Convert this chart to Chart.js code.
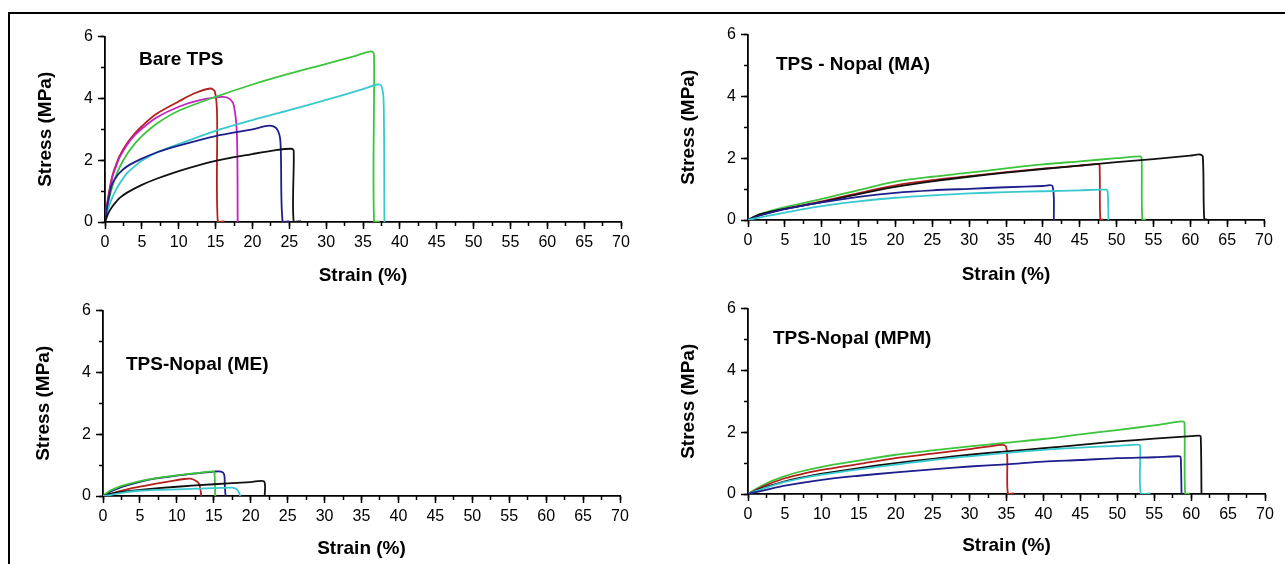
<!DOCTYPE html>
<html>
<head>
<meta charset="utf-8">
<title>Stress-strain curves</title>
<script src="https://cdn.jsdelivr.net/npm/chart.js@4.4.1/dist/chart.umd.min.js"></script>
<style>
  body { margin: 0; background: #fff; width: 1285px; height: 564px; overflow: hidden; position: relative;
         font-family: 'Liberation Sans', Arial, sans-serif; }
  .frame { position: absolute; left: 8px; top: 12px; width: 1300px; height: 600px;
           border-top: 2px solid #000; border-left: 2.5px solid #000; }
  canvas { position: absolute; }
  .tag { position: absolute; font-weight: bold; font-size: 19px; line-height: 19px; color: #000; white-space: nowrap; }
</style>
</head>
<body>
<div class="frame"></div>

<canvas id="bareChart" width="607" height="265" style="left:34px; top:22px;"></canvas>
<canvas id="maChart" width="607" height="266" style="left:677px; top:20px;"></canvas>
<canvas id="meChart" width="608" height="264" style="left:32px; top:296px;"></canvas>
<canvas id="mpmChart" width="608" height="263" style="left:677px; top:294px;"></canvas>

<div class="tag" style="left:139px; top:49px;">Bare TPS</div>
<div class="tag" style="left:776px; top:54px;">TPS - Nopal (MA)</div>
<div class="tag" style="left:126px; top:354px;">TPS-Nopal (ME)</div>
<div class="tag" style="left:773px; top:328px;">TPS-Nopal (MPM)</div>

<script>
// Specimen colours used in every panel
const RED = '#b3201e';
const MAGENTA = '#c322c3';
const GREEN = '#3cc43c';
const CYAN = '#38c9cf';
const BLUE = '#1e1e8c';
const BLACK = '#111111';

// Axis labels
const strainLabel = 'Strain (%)';
const stressLabel = 'Stress (MPa)';

// Bare TPS  [strain %, stress MPa]
const bareRed = [[0,0],[0.3,0.6],[0.6,1.05],[1,1.5],[1.5,1.85],[2,2.15],[3,2.55],[4,2.85],[5,3.1],[7,3.5],[10,3.9],[12,4.15],[14.3,4.32],[14.9,4.22],[15.2,3.5],[15.3,0],[16.2,0.02]];
const bareMagenta = [[0,0],[0.3,0.55],[0.6,0.95],[1,1.45],[1.5,1.8],[2,2.1],[3,2.5],[4,2.8],[5,3.02],[7,3.38],[10,3.73],[13,3.95],[16,4.05],[17,3.97],[17.5,3.75],[17.9,2.8],[18,0]];
const bareGreen = [[0,0],[0.3,0.45],[0.6,0.8],[1,1.15],[1.5,1.5],[2,1.78],[3,2.2],[4,2.52],[5,2.78],[7,3.18],[10,3.6],[15,4.05],[20,4.45],[25,4.8],[30,5.12],[34,5.38],[36.2,5.52],[36.5,5.4],[36.5,0],[37.3,0.02]];
const bareCyan = [[0,0],[0.3,0.3],[0.6,0.55],[1,0.8],[1.5,1.05],[2,1.25],[3,1.58],[4,1.8],[5,1.98],[7,2.25],[10,2.52],[15,2.95],[20,3.3],[25,3.62],[30,3.95],[35,4.3],[37,4.45],[37.5,4.4],[37.8,3.9],[37.9,0]];
const bareBlue = [[0,0],[0.3,0.5],[0.7,1.0],[1,1.25],[1.5,1.45],[2,1.6],[3,1.8],[5,2.05],[7,2.25],[10,2.47],[15,2.78],[20,3.0],[22.3,3.12],[23.3,3.02],[23.8,2.6],[24.1,0],[25,0.02]];
const bareBlack = [[0,0],[0.3,0.2],[0.6,0.35],[1,0.5],[1.5,0.65],[2,0.78],[3,0.95],[5,1.2],[7,1.4],[10,1.65],[15,1.98],[20,2.2],[23,2.32],[25.3,2.37],[25.6,2.3],[25.6,0],[26.6,0.03]];

// TPS - Nopal (MA)
const maGreen = [[0,0],[1,0.12],[2,0.22],[5,0.42],[10,0.68],[15,0.97],[20,1.24],[25,1.4],[30,1.53],[35,1.67],[40,1.8],[45,1.9],[50,2.0],[53.2,2.06],[53.4,2.0],[53.5,0],[54,0.02]];
const maRed = [[0,0],[1,0.1],[2,0.18],[5,0.36],[10,0.6],[15,0.87],[20,1.12],[25,1.29],[30,1.42],[35,1.55],[40,1.66],[45,1.76],[47.5,1.81],[47.7,1.75],[47.8,0],[48.2,0.02]];
const maBlack = [[0,0],[1,0.13],[2,0.21],[5,0.36],[10,0.58],[15,0.84],[20,1.07],[25,1.25],[30,1.4],[35,1.53],[40,1.65],[45,1.76],[50,1.87],[55,1.97],[60,2.08],[61.3,2.12],[61.7,2.05],[61.9,0],[62.3,0.03]];
const maBlue = [[0,0],[1,0.09],[2,0.17],[5,0.35],[10,0.57],[15,0.75],[20,0.88],[25,0.96],[30,1.01],[35,1.06],[40,1.1],[41.3,1.1],[41.5,0]];
const maCyan = [[0,0],[1,0.05],[2,0.1],[5,0.24],[10,0.45],[15,0.6],[20,0.72],[25,0.8],[30,0.86],[35,0.9],[40,0.93],[45,0.96],[48.6,0.98],[48.8,0.9],[48.9,0]];

// TPS-Nopal (ME)
const meGreen = [[0,0],[0.5,0.1],[1,0.18],[2,0.28],[3,0.36],[5,0.48],[7,0.57],[10,0.67],[13,0.75],[15,0.8],[15.1,0.75],[15.2,0]];
const meBlue = [[0,0],[0.5,0.07],[1,0.14],[2,0.24],[3,0.33],[5,0.46],[7,0.56],[10,0.66],[13,0.74],[15,0.79],[16,0.79],[16.4,0.7],[16.5,0.3],[16.6,0]];
const meRed = [[0,0],[1,0.06],[2,0.14],[3,0.2],[5,0.3],[7,0.39],[9,0.47],[11,0.55],[11.8,0.56],[12.5,0.5],[13,0.4],[13.2,0.2],[13.3,0]];
const meBlack = [[0,0],[1,0.07],[2,0.12],[5,0.2],[10,0.3],[15,0.38],[20,0.45],[21.8,0.47],[21.9,0]];
const meCyan = [[0,0],[1,0.03],[2,0.08],[3,0.12],[5,0.17],[8,0.2],[12,0.23],[16,0.26],[17.5,0.27],[18.2,0.2],[18.5,0.05],[18.6,0]];

// TPS-Nopal (MPM)
const mpmGreen = [[0,0],[1,0.15],[2,0.28],[3,0.4],[5,0.58],[7,0.72],[10,0.88],[15,1.08],[20,1.27],[25,1.41],[30,1.54],[35,1.66],[40,1.78],[45,1.93],[50,2.07],[55,2.22],[58.8,2.35],[59.1,2.3],[59.2,0],[59.8,0.02]];
const mpmRed = [[0,0],[1,0.12],[2,0.24],[3,0.34],[5,0.51],[7,0.63],[10,0.78],[15,0.97],[20,1.16],[25,1.31],[30,1.45],[34.3,1.59],[34.9,1.55],[35.1,1.2],[35.2,0],[36,0.02]];
const mpmBlack = [[0,0],[1,0.1],[2,0.19],[3,0.27],[5,0.41],[7,0.52],[10,0.66],[15,0.84],[20,1.0],[25,1.14],[30,1.27],[35,1.38],[40,1.48],[45,1.59],[50,1.7],[55,1.79],[60,1.87],[61.1,1.89],[61.3,1.85],[61.4,0]];
const mpmCyan = [[0,0],[1,0.09],[2,0.17],[3,0.25],[5,0.39],[7,0.5],[10,0.63],[15,0.8],[20,0.95],[25,1.1],[30,1.22],[35,1.33],[40,1.43],[45,1.5],[50,1.56],[52.8,1.6],[53.1,1.55],[53.2,0],[54.5,0.02]];
const mpmBlue = [[0,0],[1,0.06],[2,0.11],[5,0.27],[10,0.46],[15,0.59],[20,0.7],[25,0.8],[30,0.89],[35,0.96],[40,1.05],[45,1.1],[50,1.16],[55,1.19],[58.5,1.22],[58.6,1.15],[58.7,0]];

Chart.defaults.font.family = "'Liberation Sans', Arial, sans-serif";
Chart.defaults.color = '#000';

const tickFont = { size: 16 };
const titleFont = { size: 19, weight: 'bold' };

// Build one stress-strain panel; xAxisHeight sets where the strain title sits
function makePanel(canvasId, curves, xAxisHeight) {
    const ctx = document.getElementById(canvasId).getContext('2d');
    return new Chart(ctx, {
        type: 'line',
        data: {
            datasets: curves.map(c => ({
                data: c[0].map(p => ({ x: p[0], y: p[1] })),
                borderColor: c[1],
                borderWidth: 1.8,
                pointRadius: 0,
                tension: 0.3,
                fill: false
            }))
        },
        options: {
            responsive: false,
            animation: false,
            layout: { padding: { top: 14, right: 20, left: 0, bottom: 0 } },
            plugins: { legend: { display: false }, tooltip: { enabled: false } },
            scales: {
                x: {
                    type: 'linear', position: 'bottom', min: 0, max: 70, weight: 1,
                    ticks: { stepSize: 5, font: tickFont, padding: 4, maxRotation: 0, autoSkip: false },
                    grid: { drawOnChartArea: false, tickLength: 7, tickColor: '#000', tickWidth: 1.5 },
                    border: { color: '#000', width: 1.8 },
                    title: { display: true, text: strainLabel, font: titleFont, padding: 0 },
                    afterFit: scale => { scale.height = xAxisHeight; }
                },
                xMinor: {
                    type: 'linear', position: 'bottom', min: 0, max: 70, weight: 0,
                    ticks: { stepSize: 2.5, display: false },
                    grid: { drawOnChartArea: false, tickLength: 4, tickColor: '#000', tickWidth: 1.5 },
                    border: { display: false },
                    afterFit: scale => { scale.height = 0; }
                },
                y: {
                    type: 'linear', position: 'left', min: 0, max: 6, weight: 1,
                    ticks: { stepSize: 2, font: tickFont, padding: 5 },
                    grid: { drawOnChartArea: false, tickLength: 7, tickColor: '#000', tickWidth: 1.5 },
                    border: { color: '#000', width: 1.8 },
                    title: { display: true, text: stressLabel, font: titleFont, padding: 0 },
                    afterFit: scale => { scale.width = 71; }
                },
                yMinor: {
                    type: 'linear', position: 'left', min: 0, max: 6, weight: 0,
                    ticks: { stepSize: 1, display: false },
                    grid: { drawOnChartArea: false, tickLength: 4, tickColor: '#000', tickWidth: 1.5 },
                    border: { display: false },
                    afterFit: scale => { scale.width = 0; }
                }
            }
        }
    });
}

document.addEventListener('DOMContentLoaded', function() {
    makePanel('bareChart', [
        [bareBlack, BLACK], [bareBlue, BLUE], [bareCyan, CYAN],
        [bareGreen, GREEN], [bareMagenta, MAGENTA], [bareRed, RED]
    ], 65);
    makePanel('maChart', [
        [maCyan, CYAN], [maBlue, BLUE], [maBlack, BLACK], [maRed, RED], [maGreen, GREEN]
    ], 66);
    makePanel('meChart', [
        [meCyan, CYAN], [meBlack, BLACK], [meRed, RED], [meGreen, GREEN], [meBlue, BLUE]
    ], 64);
    makePanel('mpmChart', [
        [mpmBlue, BLUE], [mpmCyan, CYAN], [mpmBlack, BLACK], [mpmRed, RED], [mpmGreen, GREEN]
    ], 63);
});
</script>
</body>
</html>
